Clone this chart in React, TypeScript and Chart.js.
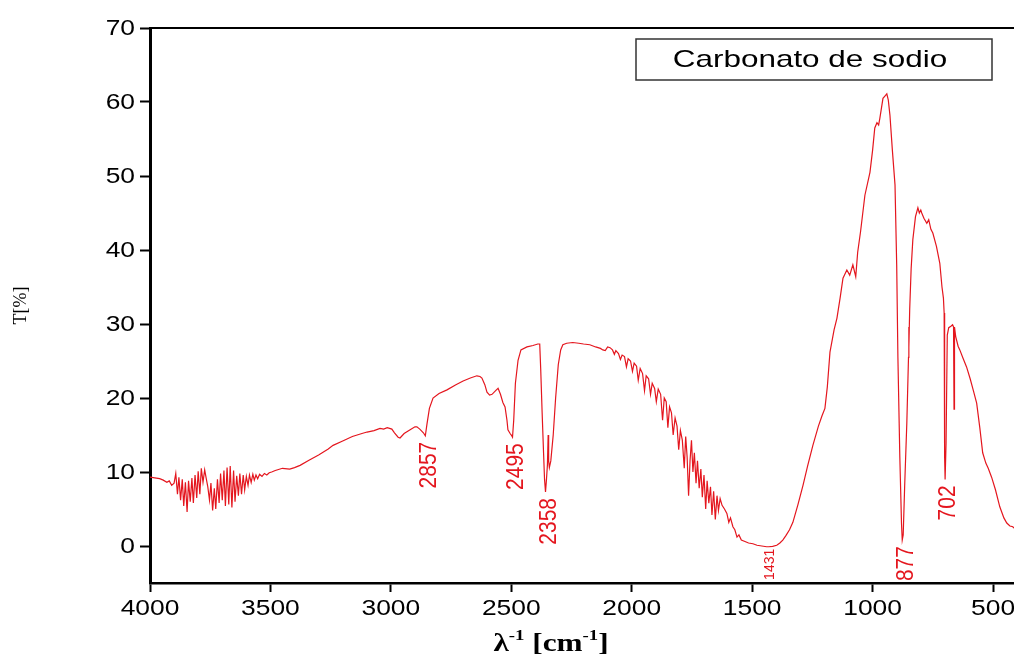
import React, { useEffect, useRef } from 'react';
import { Chart, registerables } from 'chart.js';

Chart.register(...registerables);

// ---- Data ----
const wavenumbers = [
  4000, 3980, 3960, 3945, 3930, 3920, 3910, 3900, 3893, 3886, 3880, 3873, 3866, 3860, 3853, 3846,
  3840, 3833, 3826, 3820, 3813, 3806, 3800, 3793, 3787, 3780, 3773, 3767, 3760, 3753, 3747, 3740,
  3733, 3727, 3720, 3713, 3707, 3700, 3693, 3687, 3680, 3673, 3667, 3660, 3653, 3647, 3640, 3633,
  3627, 3620, 3613, 3607, 3600, 3593, 3587, 3580, 3573, 3567, 3560, 3553, 3545, 3535, 3525, 3515,
  3505, 3495, 3480, 3450, 3420, 3400, 3377, 3340, 3300, 3260, 3240, 3200, 3160, 3120, 3099, 3070,
  3045, 3030, 3015, 2996, 2985, 2970, 2962, 2945, 2920, 2900, 2892, 2880, 2865, 2857, 2850, 2840,
  2825, 2800, 2767, 2730, 2700, 2670, 2643, 2630, 2622, 2610, 2601, 2590, 2580, 2565, 2555, 2545,
  2535, 2526, 2518, 2514, 2505, 2500, 2495, 2490, 2483, 2472, 2460, 2435, 2410, 2390, 2382, 2378,
  2372, 2366, 2362, 2358, 2354, 2350, 2347, 2345, 2342, 2336, 2326, 2316, 2305, 2295, 2286, 2270,
  2245, 2220, 2200, 2174, 2150, 2130, 2120, 2110, 2100, 2090, 2080, 2072, 2066, 2055, 2047, 2040,
  2030, 2022, 2015, 2005, 1997, 1990, 1980, 1973, 1965, 1955, 1947, 1940, 1930, 1922, 1915, 1905,
  1898, 1890, 1880, 1872, 1865, 1857, 1850, 1843, 1835, 1828, 1820, 1812, 1805, 1798, 1790, 1782,
  1776, 1770, 1764, 1758, 1752, 1746, 1740, 1733, 1727, 1720, 1713, 1707, 1700, 1693, 1687, 1680,
  1673, 1667, 1660, 1653, 1646, 1640, 1633, 1625, 1615, 1605, 1597, 1590, 1580, 1572, 1563, 1555,
  1545, 1530, 1515, 1497, 1480, 1460, 1440, 1431, 1415, 1398, 1385, 1373, 1360, 1345, 1331, 1310,
  1289, 1270, 1248, 1225, 1210, 1198, 1188, 1177, 1160, 1148, 1135, 1123, 1107, 1095, 1082, 1070,
  1062, 1050, 1032, 1011, 1000, 991, 982, 975, 970, 957, 949, 941, 935, 928, 918, 907,
  900, 895, 887, 880, 877, 873, 867, 858, 851, 850, 849, 846, 840, 833, 822, 812,
  806, 800, 796, 787, 775, 767, 758, 750, 735, 721, 712, 706, 703, 701, 699, 695,
  690, 684, 675, 668, 664, 662, 660, 655, 645, 638, 625, 610, 595, 580, 568, 555,
  543, 530, 520, 506, 490, 472, 455, 443, 430, 418, 413,
];

const transmittance = [
  9.3, 9.2, 9.1, 8.9, 8.6, 8.8, 8.2, 8.5, 9.8, 7.0, 9.3, 6.2, 9.0, 5.4, 8.6, 4.6,
  8.8, 6.0, 9.2, 5.8, 9.6, 6.5, 10.1, 7.0, 10.5, 8.6, 10.3, 9.2, 8.0, 6.2, 8.5, 4.8,
  7.8, 5.0, 9.0, 5.8, 9.8, 6.2, 10.2, 5.4, 10.6, 5.6, 10.8, 5.2, 10.2, 6.0, 9.5, 6.8,
  9.8, 7.0, 9.6, 7.6, 9.4, 8.2, 9.6, 8.6, 9.7, 8.9, 9.6, 9.1, 9.7, 9.4, 9.8, 9.6,
  9.9, 10.0, 10.2, 10.5, 10.4, 10.6, 10.9, 11.6, 12.3, 13.1, 13.6, 14.2, 14.8, 15.2, 15.4, 15.6,
  15.9, 15.8, 16.0, 15.8, 15.3, 14.7, 14.6, 15.2, 15.7, 16.1, 16.1, 15.8, 15.3, 14.9, 16.5, 18.6,
  20.0, 20.6, 21.1, 21.8, 22.3, 22.7, 23.0, 22.9, 22.7, 21.8, 20.8, 20.4, 20.5, 21.0, 21.3, 20.5,
  19.4, 18.8, 17.0, 15.7, 15.2, 15.0, 14.7, 17.0, 22.0, 25.1, 26.5, 26.9, 27.1, 27.3, 27.3, 24.0,
  18.0, 12.5, 9.0, 7.3, 9.0, 11.0, 15.0, 11.5, 10.6, 11.5, 15.0, 20.0, 24.5, 26.5, 27.2, 27.4,
  27.5, 27.4, 27.3, 27.2, 26.9, 26.7, 26.5, 26.4, 26.9, 26.8, 26.5, 25.9, 26.4, 26.0, 25.2, 25.8,
  25.6, 24.2, 25.3, 25.0, 23.6, 24.7, 24.3, 22.4, 24.0, 23.3, 21.0, 23.0, 22.6, 20.5, 22.0, 21.3,
  19.5, 21.2, 20.5, 17.0, 20.0, 19.5, 16.0, 18.8, 18.0, 15.0, 17.3, 16.2, 13.0, 15.6, 14.3, 10.5,
  14.8, 12.0, 6.8, 11.5, 14.3, 10.0, 12.6, 8.5, 11.5, 7.8, 10.4, 6.6, 9.6, 5.0, 8.8, 5.8,
  8.0, 4.2, 7.4, 3.6, 6.8, 4.8, 6.4, 5.5, 5.0, 4.4, 3.2, 3.8, 2.6, 2.2, 1.2, 1.5,
  0.8, 0.6, 0.4, 0.3, 0.1, 0.0, -0.1, -0.1, -0.05, 0.1, 0.4, 0.8, 1.4, 2.2, 3.2, 5.6,
  8.2, 10.8, 13.6, 16.2, 17.6, 18.6, 21.5, 26.2, 29.2, 30.8, 33.5, 36.2, 37.3, 36.6, 38.0, 36.4,
  39.7, 42.5, 47.4, 50.5, 53.5, 56.5, 57.2, 56.9, 57.8, 60.5, 60.8, 61.1, 60.3, 58.2, 53.5, 48.8,
  38.0, 25.5, 12.0, 3.0, 0.8, 1.5, 8.0, 16.6, 25.5, 29.6, 26.9, 32.0, 37.5, 41.4, 44.5, 45.7,
  45.0, 45.4, 45.0, 44.3, 43.6, 44.1, 42.8, 42.3, 40.5, 38.2, 35.0, 33.5, 31.5, 12.0, 9.0, 14.0,
  28.5, 29.5, 29.7, 29.9, 29.6, 18.5, 29.6, 28.3, 27.0, 26.5, 25.4, 24.2, 22.6, 20.8, 19.3, 16.0,
  12.6, 11.2, 10.5, 9.3, 7.6, 5.3, 3.8, 3.1, 2.7, 2.6, 2.4,
];

const xTicks = [4000, 3500, 3000, 2500, 2000, 1500, 1000, 500];
const yTicks = [0, 10, 20, 30, 40, 50, 60, 70];
const peakLabels = ['2857', '2495', '2358', '1431', '877', '702'];
const peakWavenumbers = [2857, 2495, 2358, 1431, 877, 702];
const smallPeakLabel = '1431';
const legendLabel = 'Carbonato de sodio';
const yTitle = 'T[%]';
const xTitleParts = ['λ', '-1', ' [cm', '-1', ']'];

const RED = 'rgb(228, 22, 30)';
const SANS = '"Liberation Sans", Arial, sans-serif';
const SERIF = '"Liberation Serif", "Times New Roman", serif';
const TEXT_STRETCH = 1.2;

function stretchedText(ctx: any, text: string, x: number, y: number, sx: number) {
  ctx.save();
  ctx.translate(x, y);
  ctx.scale(sx, 1);
  ctx.fillText(text, 0, 0);
  ctx.restore();
}

const overlayPlugin = {
  id: 'overlay',
  afterDraw(chart: any) {
    const { ctx, chartArea, scales } = chart;
    const xs = scales.x;
    const ys = scales.y;
    ctx.save();

    // top frame line
    ctx.strokeStyle = '#000';
    ctx.lineWidth = 2;
    ctx.beginPath();
    ctx.moveTo(chartArea.left, chartArea.top);
    ctx.lineTo(chartArea.right, chartArea.top);
    ctx.stroke();

    // tick labels (slightly wide type, like the reference)
    ctx.fillStyle = '#000';
    ctx.font = `22px ${SANS}`;
    ctx.textAlign = 'center';
    ctx.textBaseline = 'top';
    xTicks.forEach((v) => {
      stretchedText(ctx, String(v), xs.getPixelForValue(v), chartArea.bottom + 15, TEXT_STRETCH);
    });
    ctx.textAlign = 'right';
    ctx.textBaseline = 'middle';
    yTicks.forEach((v) => {
      stretchedText(ctx, String(v), chartArea.left - 15, ys.getPixelForValue(v) + 1, TEXT_STRETCH);
    });

    // peak labels
    ctx.fillStyle = RED;
    peakLabels.forEach((lab, i) => {
      const w = peakWavenumbers[i];
      let minT = Infinity;
      wavenumbers.forEach((v, j) => {
        if (Math.abs(v - w) <= 6) minT = Math.min(minT, transmittance[j]);
      });
      const small = lab === smallPeakLabel;
      const px = xs.getPixelForValue(w) + (small ? 1 : 4);
      const py = ys.getPixelForValue(minT);
      const size = small ? 14 : 21;
      ctx.save();
      ctx.translate(px, py + (small ? 2 : 6));
      ctx.scale(small ? 1 : 1.1, 1);
      ctx.rotate(-Math.PI / 2);
      ctx.font = `${size}px ${SANS}`;
      ctx.textAlign = 'right';
      ctx.textBaseline = 'middle';
      ctx.fillText(lab, 0, 0);
      ctx.restore();
    });

    // legend box
    const bx = chartArea.left + 486;
    const by = chartArea.top + 11;
    const bw = 356;
    const bh = 41;
    ctx.strokeStyle = '#333';
    ctx.lineWidth = 1.5;
    ctx.strokeRect(bx, by, bw, bh);
    ctx.fillStyle = '#000';
    ctx.font = `24px ${SANS}`;
    ctx.textAlign = 'center';
    ctx.textBaseline = 'middle';
    stretchedText(ctx, legendLabel, bx + bw / 2 - 4, by + bh / 2 + 1, 1.31);

    // x axis title with superscripts
    const sx = 1.25;
    const mainFont = `bold 25px ${SERIF}`;
    const supFont = `bold 15px ${SERIF}`;
    const fonts = xTitleParts.map((p, i) => (i % 2 === 1 ? supFont : mainFont));
    let total = 0;
    const widths = xTitleParts.map((p, i) => {
      ctx.font = fonts[i];
      const w = ctx.measureText(p).width * sx;
      total += w;
      return w;
    });
    const cx = (chartArea.left + chartArea.right) / 2 - 31;
    let x = cx - total / 2;
    const baseline = chartArea.bottom + 68;
    ctx.textAlign = 'left';
    ctx.textBaseline = 'alphabetic';
    xTitleParts.forEach((p, i) => {
      ctx.font = fonts[i];
      stretchedText(ctx, p, x, i % 2 === 1 ? baseline - 11 : baseline, sx);
      x += widths[i];
    });

    ctx.restore();
  },
};

export default function App() {
  const canvasRef = useRef<HTMLCanvasElement | null>(null);

  useEffect(() => {
    const canvas = canvasRef.current;
    if (!canvas) return;
    const points = wavenumbers.map((w, i) => ({ x: w, y: transmittance[i] }));
    const chart = new Chart(canvas, {
      type: 'line',
      data: {
        datasets: [
          {
            data: points,
            borderColor: RED,
            borderWidth: 1.2,
            pointRadius: 0,
            fill: false,
            tension: 0,
          },
        ],
      },
      plugins: [overlayPlugin],
      options: {
        animation: false,
        responsive: false,
        events: [],
        layout: { padding: { top: 28, right: 0, left: 0, bottom: 0 } },
        plugins: { legend: { display: false }, tooltip: { enabled: false } },
        scales: {
          x: {
            type: 'linear',
            reverse: true,
            min: 413,
            max: 4000,
            afterBuildTicks: (scale: any) => {
              scale.ticks = xTicks.map((v) => ({ value: v }));
            },
            afterFit: (scale: any) => {
              scale.height = 74;
            },
            grid: {
              drawOnChartArea: false,
              drawTicks: true,
              tickLength: 9,
              tickWidth: 2,
              tickColor: '#000',
            },
            border: { display: true, color: '#000', width: 2.5 },
            ticks: { display: false },
          },
          y: {
            type: 'linear',
            min: -5,
            max: 70,
            afterBuildTicks: (scale: any) => {
              scale.ticks = yTicks.map((v) => ({ value: v }));
            },
            afterFit: (scale: any) => {
              scale.width = 150;
            },
            grid: {
              drawOnChartArea: false,
              drawTicks: true,
              tickLength: 10,
              tickWidth: 2,
              tickColor: '#000',
            },
            border: { display: true, color: '#000', width: 3 },
            title: {
              display: true,
              text: yTitle,
              color: '#000',
              font: { family: SERIF, size: 18 },
              padding: { top: 10, bottom: 0 },
            },
            ticks: { display: false },
          },
        },
      },
    });
    return () => chart.destroy();
  }, []);

  return (
    <div style={{ position: 'absolute', left: 0, top: 0, width: 1014, height: 657, overflow: 'hidden', background: '#fff' }}>
      <canvas ref={canvasRef} width={1014} height={657} style={{ display: 'block', width: 1014, height: 657 }} />
    </div>
  );
}
